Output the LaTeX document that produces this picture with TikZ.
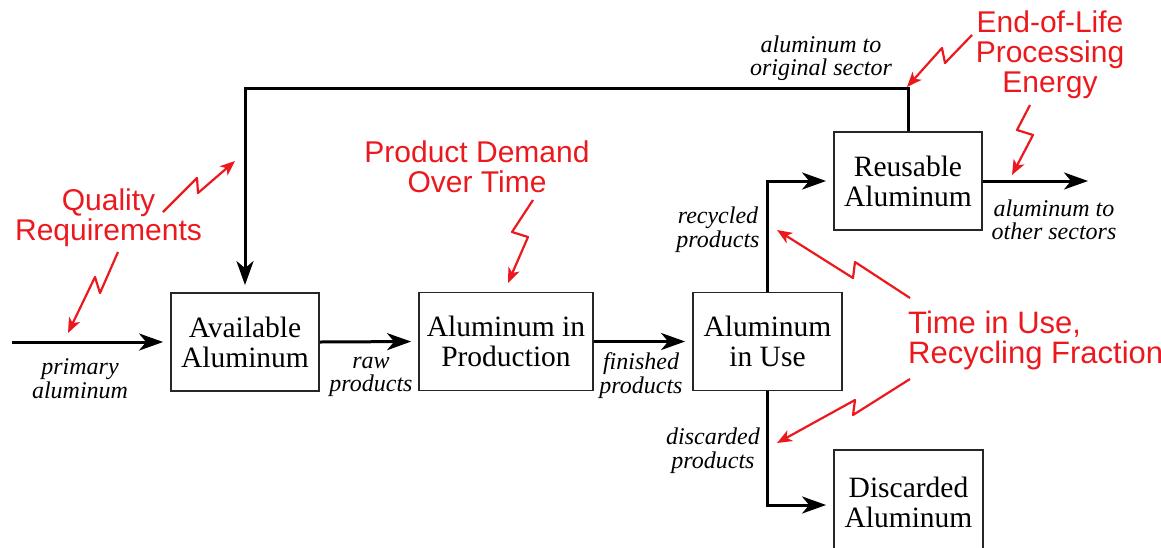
\documentclass[tikz,border=0pt]{standalone}
\usepackage{fontspec}
\setmainfont{Liberation Serif}
\newfontfamily\arialfont{Liberation Sans}
\usetikzlibrary{arrows.meta}
\definecolor{boltred}{RGB}{235,25,30}
\begin{document}
\begin{tikzpicture}[x=1pt,y=-1pt,
  box/.style={draw=black!85,line width=1.8pt,minimum height=98pt,align=center,inner sep=0pt,
    font=\fontsize{29.5}{30}\selectfont},
  flow/.style={line width=3pt,-{Stealth[length=24pt,width=17pt,inset=7pt]},shorten >=7pt},
  lab/.style={font=\fontsize{24}{23.5}\selectfont\itshape,align=center,inner sep=0pt},
  redlab/.style={text=boltred,font=\arialfont\fontsize{30}{30}\selectfont,align=center,inner sep=0pt},
  bolt/.style={draw=boltred,line width=2.2pt,line join=round,-{Stealth[length=15pt,width=12pt,inset=4pt]}}]
\useasboundingbox (0,0) rectangle (1161,547);

% boxes
\node[box,minimum width=148pt] (avail) at (245,342) {Available\\Aluminum};
\node[box,minimum width=174pt] (prod) at (506,341.5) {Aluminum in\\Production};
\node[box,minimum width=149pt] (use) at (767.5,341.5) {Aluminum\\in Use};
\node[box,minimum width=148pt] (reuse) at (908,181) {Reusable\\Aluminum};
\node[box,minimum width=149pt,minimum height=104pt] (disc) at (908.5,502) {Discarded\\Aluminum};

\coordinate (pin) at (12,342);
\coordinate (pout) at (1095,181);

% flows
\draw[flow] (pin) -- (avail.west);
\draw[flow] (avail.east) -- (prod.west);
\draw[flow] (prod.east) -- (use.west);
\draw[flow] (use.north) |- (reuse.west);
\draw[flow] (use.south) |- ([yshift=-3pt]disc.west);
\draw[flow] (reuse.north) -- ++(0,-43) -| (avail.north);
\draw[flow] (reuse.east) -- (pout);

% flow labels
\node[lab] (lprim) at (80,378.5) {primary\\aluminum};
\node[lab] (lraw) at (371,377) {raw\\products};
\node[lab] (lfin) at (641,375.5) {finished\\products};
\node[lab] (lrec) at (718,229.5) {recycled\\products};
\node[lab] (ldis) at (713,450.5) {discarded\\products};
\node[lab] (lorig) at (821,58) {aluminum to\\original sector};
\node[lab] (lother) at (1054,220) {aluminum to\\other sectors};

% red labels
\node[redlab] (qual) at (108.5,217.5) {Quality\\Requirements};
\node[redlab] (dem) at (477,166.5) {Product Demand\\Over Time};
\node[redlab] (eol) at (1050,54.5) {End-of-Life\\Processing\\Energy};
\node[redlab,anchor=west,align=left,font=\arialfont\fontsize{31}{30}\selectfont] (time) at (908,340) {Time in Use,\\Recycling Fraction};

% bolts
\coordinate (q1s) at (163,212); \coordinate (q1t) at (235,161);
\draw[bolt] (q1s) -- (197,178) -- (198,193) -- (q1t);
\coordinate (q2s) at (118,252); \coordinate (q2t) at (68,333);
\draw[bolt] (q2s) -- (100,293) -- (95,277) -- (q2t);
\coordinate (ds) at (533,200); \coordinate (dt) at (508,283);
\draw[bolt] (ds) -- (512,232) -- (528,237) -- (dt);
\coordinate (e1s) at (972,35); \coordinate (e1t) at (907,87);
\draw[bolt] (e1s) -- (945,63) -- (942,48) -- (e1t);
\coordinate (e2s) at (1030,105); \coordinate (e2t) at (1012,175);
\draw[bolt] (e2s) -- (1017,130) -- (1033,135) -- (e2t);
\coordinate (t1s) at (910,298); \coordinate (t1t) at (777,230);
\draw[bolt] (t1s) -- (855,262) -- (853,278) -- (t1t);
\coordinate (t2s) at (910,379); \coordinate (t2t) at (777,443);
\draw[bolt] (t2s) -- (853,415) -- (855,400) -- (t2t);
\end{tikzpicture}
\end{document}
